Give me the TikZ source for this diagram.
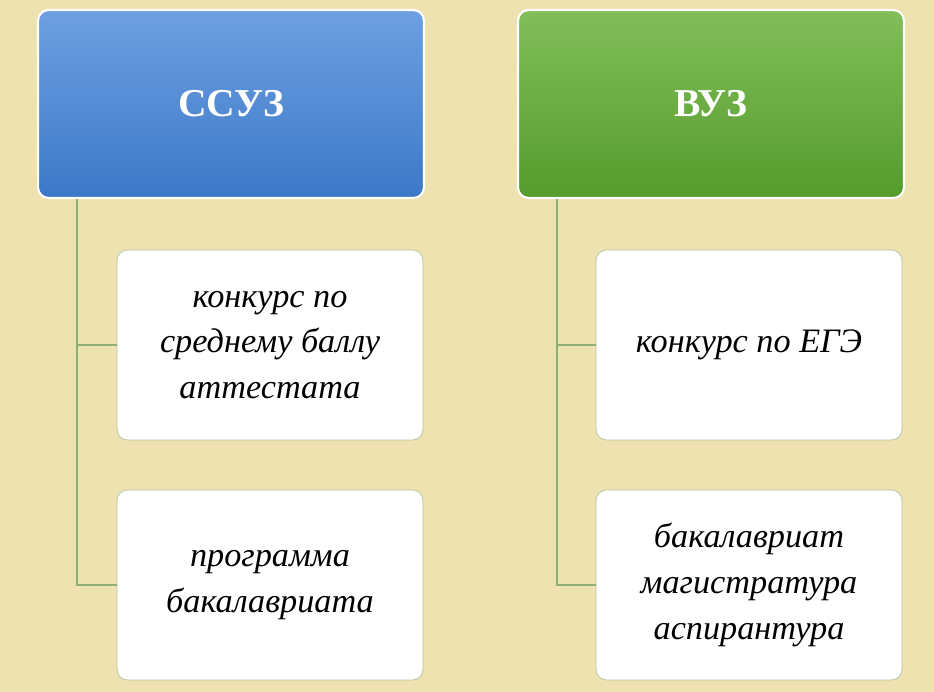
\documentclass[tikz,border=0pt]{standalone}
\usepackage{fontspec}
\setmainfont{Liberation Serif}
\usetikzlibrary{positioning,calc}
\definecolor{bgbeige}{RGB}{238,226,176}
\definecolor{linegreen}{RGB}{140,175,120}
\begin{document}
\begin{tikzpicture}[x=0.02cm,y=-0.02cm,
    headbox/.style={draw=white, line width=1.2pt, rounded corners=6pt, minimum width=7.72cm, minimum height=3.76cm, font=\fontsize{22.5}{26}\selectfont\bfseries, text=white},
    itembox/.style={draw=linegreen!70, fill=white, rounded corners=6pt, minimum width=6.12cm, minimum height=3.8cm, align=center, font=\fontsize{19.5}{26}\selectfont\itshape},
    link/.style={draw=linegreen, line width=0.8pt}]
    \fill[bgbeige] (0,0) rectangle (934,692);
    \node[headbox, top color={rgb,255:red,110;green,160;blue,225}, bottom color={rgb,255:red,60;green,120;blue,200}] (ssuz) at (231,104) {ССУЗ};
    \node[headbox, top color={rgb,255:red,130;green,190;blue,90}, bottom color={rgb,255:red,85;green,155;blue,45}] (vuz) at (711,104) {ВУЗ};
    \node[itembox] (s1) at (270,345) {конкурс по\\среднему баллу\\аттестата};
    \node[itembox] (s2) at (270,585) {программа\\бакалавриата};
    \node[itembox] (v1) at (749,345) {конкурс по ЕГЭ};
    \node[itembox] (v2) at (749,585) {бакалавриат\\магистратура\\аспирантура};
    % connectors
    \coordinate (sroot) at ($(ssuz.south west)+(40,0)$);
    \coordinate (vroot) at ($(vuz.south west)+(40,0)$);
    \draw[link] (sroot) |- (s1.west);
    \draw[link] (sroot) |- (s2.west);
    \draw[link] (vroot) |- (v1.west);
    \draw[link] (vroot) |- (v2.west);
\end{tikzpicture}
\end{document}
